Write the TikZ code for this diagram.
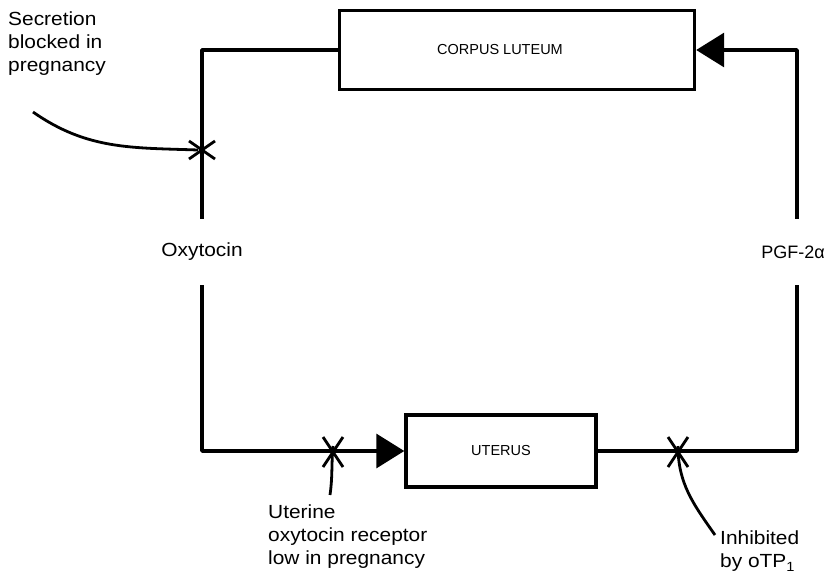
\documentclass[tikz,border=0pt]{standalone}
\usepackage{fontspec}
\setmainfont{Liberation Sans}
\newfontfamily\widefont{Liberation Sans}[FakeStretch=1.1]
\usepackage{tikz}
\usetikzlibrary{positioning, arrows.meta}

\begin{document}
\begin{tikzpicture}[
    x=1pt, y=-1pt,
    wire/.style={line width=3.4pt, line join=round},
    fwd/.style={wire, -{Triangle[length=28pt, width=34pt]}},
    organ/.style={draw, line width=3.4pt, inner sep=0pt, font=\fontsize{14.5}{17}\selectfont},
    gaplabel/.style={minimum height=66pt, inner sep=0pt, font=\widefont\fontsize{19}{23}\selectfont},
    note/.style={align=left, inner sep=0pt, anchor=north west, font=\widefont\fontsize{19}{23}\selectfont},
    cross/.style={line width=2.8pt},
    pointer/.style={line width=2.8pt}
]
\useasboundingbox (0,0) rectangle (827,576);

% Organs
\node[organ, minimum width=355pt, minimum height=79pt] (corpus) at (517,50) {\hspace*{-34pt}CORPUS LUTEUM};
\node[organ, minimum width=190pt, minimum height=72pt] (uterus) at (501,451) {UTERUS};

% Hormones
\node[gaplabel] (oxy) at (202,252) {Oxytocin};
\node[gaplabel, font=\fontsize{18}{22}\selectfont] (pgf) at (797,252) {\hspace*{-8pt}PGF-2α};

% Loop
\draw[wire] (corpus.west) -| (oxy.north);
\draw[fwd] (oxy.south) |- (uterus.west);
\draw[wire] (uterus.east) -| (pgf.south);
\draw[fwd] (pgf.north) |- (corpus.east);

% Blocks on the loop
\coordinate (blockA) at (202,150);
\coordinate (blockB) at (333,452);
\coordinate (blockC) at (678,452);
\draw[cross] ([shift={(-13,-9)}]blockA) -- ([shift={(13,9)}]blockA)
             ([shift={(-13,9)}]blockA) -- ([shift={(13,-9)}]blockA);
\foreach \b in {blockB, blockC}
  \draw[cross] ([shift={(-10,-15)}]\b) -- ([shift={(10,15)}]\b)
               ([shift={(-10,15)}]\b) -- ([shift={(10,-15)}]\b);

% Notes
\node[note] (secretion) at (8,12) {Secretion\\blocked in\\pregnancy};
\node[note] (receptor) at (268,505) {Uterine\\oxytocin receptor\\low in pregnancy};
\node[note] (inhibit) at (720,531) {Inhibited\\by oTP\textsubscript{1}};

\coordinate (secA) at (33,112);
\coordinate (recA) at (330,495);
\coordinate (inhA) at (715,535);
\draw[pointer] (secA) to[out=-35, in=178] ([xshift=-4]blockA);
\draw[pointer] (recA) to[out=82, in=-95] ([yshift=6]blockB);
\draw[pointer] (inhA) to[out=125, in=-90] ([yshift=6]blockC);

\end{tikzpicture}
\end{document}
